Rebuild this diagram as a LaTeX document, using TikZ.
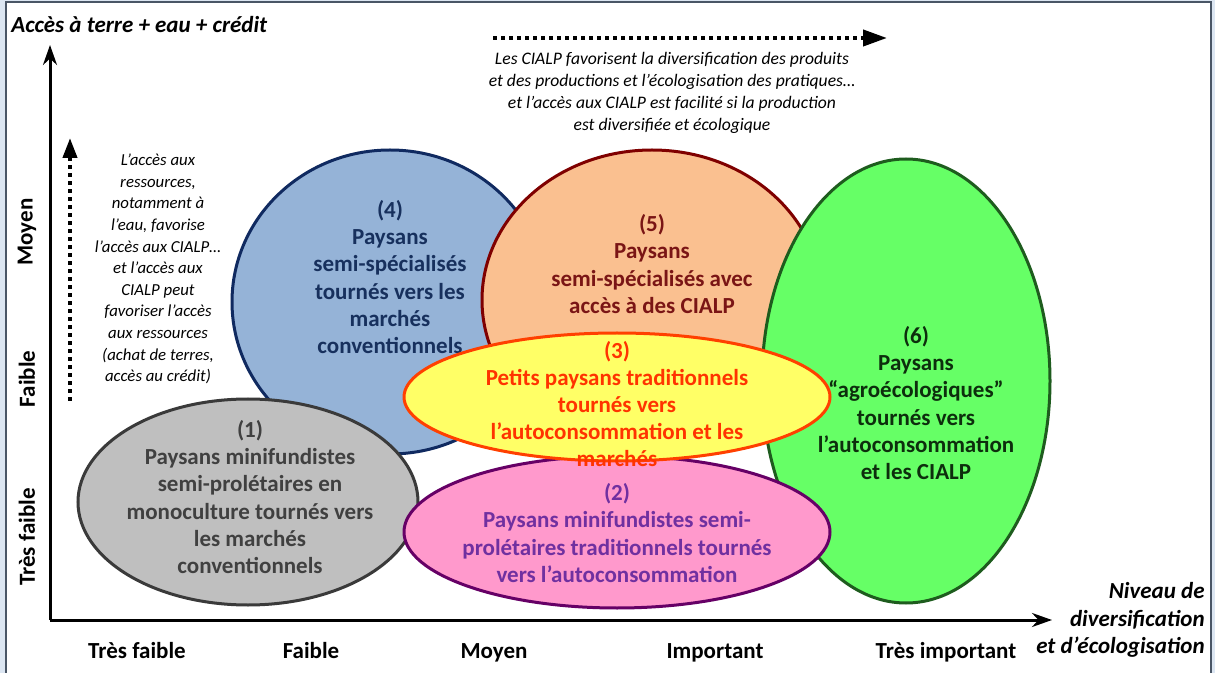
\documentclass[tikz,border=0pt]{standalone}
\usepackage{fontspec}
\setmainfont{Carlito}
\usetikzlibrary{arrows.meta,shapes.geometric}
\definecolor{edge}{HTML}{DCE6F2}
\definecolor{rim}{HTML}{4A5666}
\definecolor{fillA}{HTML}{BFBFBF}\definecolor{lineA}{HTML}{3A3A3A}\definecolor{textA}{HTML}{404040}
\definecolor{fillB}{HTML}{FF99CC}\definecolor{lineB}{HTML}{660066}\definecolor{textB}{HTML}{7030A0}
\definecolor{fillC}{HTML}{FFFF66}\definecolor{lineC}{HTML}{FF4000}\definecolor{textC}{HTML}{FF3300}
\definecolor{fillD}{HTML}{95B3D7}\definecolor{lineD}{HTML}{102A60}\definecolor{textD}{HTML}{17305D}
\definecolor{fillE}{HTML}{FAC090}\definecolor{lineE}{HTML}{7F0000}\definecolor{textE}{HTML}{7A1515}
\definecolor{fillF}{HTML}{66FF66}\definecolor{lineF}{HTML}{1E5C1E}\definecolor{textF}{HTML}{0D2E0D}
\tikzset{
  grp/.style={ellipse,draw,line width=1.5pt,inner sep=0pt},
  grptxt/.style={font=\bfseries\fontsize{11.5}{13.6}\selectfont,align=center,inner sep=0pt},
  lvl/.style={font=\bfseries\fontsize{11.5}{13.6}\selectfont,inner sep=0pt},
  note/.style={font=\itshape\fontsize{8.8}{11}\selectfont,align=center,inner sep=0pt},
  axis/.style={line width=1.5pt,-{Stealth[length=10pt,width=7pt]}},
  dots/.style={line width=2pt,dash pattern=on 2pt off 2pt}
}

\begin{document}
\begin{tikzpicture}[x=0.5pt,y=-0.5pt]
  \useasboundingbox (0,0) rectangle (1215,673);
  \fill[edge] (0,0) rectangle (1215,673);
  \draw[rim,line width=1pt,fill=white] (6,2) rectangle (1211,690);
  % axes
  \coordinate (o) at (50,620);
  \coordinate (ytip) at (50,45);
  \coordinate (xtip) at (1052,620);
  \draw[axis] (o) -- (ytip);
  \draw[axis] (o) -- (xtip);
  \node[lvl,font=\bfseries\itshape\fontsize{11.5}{13.6}\selectfont,anchor=west] (ytitle) at (11,25) {Accès à terre + eau + crédit};
  \node[lvl,font=\bfseries\itshape\fontsize{11.5}{13.6}\selectfont,align=right,anchor=east] (xtitle) at (1205,620) {Niveau de\\diversification\\et d’écologisation};
  \foreach \lab/\y in {Moyen/232,Faible/379,Très faible/537}
    \node[lvl,rotate=90] (y-\y) at (27,\y) {\lab};
  \foreach \lab/\x in {Très faible/137,Faible/311,Moyen/494,Important/715,Très important/946}
    \node[lvl,anchor=base] (x-\x) at (\x,658) {\lab};
  % dotted arrows and notes
  \coordinate (h1) at (493,38);
  \coordinate (h2) at (887,38);
  \draw[dots,-{Triangle[length=12pt,width=8pt]}] (h1) -- (h2);
  \node[note] (topnote) at (672,93) {Les CIALP favorisent la diversification des produits\\et des productions et l’écologisation des pratiques…\\et l’accès aux CIALP est facilité si la production\\est diversifiée et écologique};
  \coordinate (v1) at (70,401);
  \coordinate (v2) at (70,138);
  \draw[dots,-{Triangle[length=10pt,width=7pt]}] (v1) -- (v2);
  \node[note,font=\itshape\fontsize{8.4}{10.8}\selectfont] (leftnote) at (158,269) {L’accès aux\\ressources,\\notamment à\\l’eau, favorise\\l’accès aux CIALP…\\et l’accès aux\\CIALP peut\\favoriser l’accès\\aux ressources\\(achat de terres,\\accès au crédit)};
  % groups, back to front
  \node[grp,fill=fillD,draw=lineD,minimum width=158pt,minimum height=152pt] (g4) at (390,302) {};
  \node[grptxt,text=textD] (t4) at (390,277) {(4)\\Paysans\\semi-spécialisés\\tournés vers les\\marchés\\conventionnels};
  \node[grp,fill=fillA,draw=lineA,minimum width=170pt,minimum height=103pt] (g1) at (248,502) {};
  \node[grptxt,text=textA] (t1) at (250,497) {(1)\\Paysans minifundistes\\semi-prolétaires en\\monoculture tournés vers\\les marchés\\conventionnels};
  \node[grp,fill=fillE,draw=lineE,minimum width=170pt,minimum height=150pt] (g5) at (652,300) {};
  \node[grptxt,text=textE] (t5) at (652,264) {(5)\\Paysans\\semi-spécialisés avec\\accès à des CIALP};
  \node[grp,fill=fillF,draw=lineF,minimum width=144pt,minimum height=222pt] (g6) at (906,381) {};
  \node[grptxt,text=textF] (t6) at (916,403) {(6)\\Paysans\\“agroécologiques”\\tournés vers\\l’autoconsommation\\et les CIALP};
  \node[grp,fill=fillB,draw=lineB,minimum width=213pt,minimum height=76pt] (g2) at (617,532) {};
  \node[grptxt,text=textB] (t2) at (617,533) {(2)\\Paysans minifundistes semi-\\prolétaires traditionnels tournés\\vers l’autoconsommation};
  \node[grp,fill=fillC,draw=lineC,minimum width=213pt,minimum height=64pt] (g3) at (617,397) {};
  \node[grptxt,text=textC] (t3) at (617,404) {(3)\\Petits paysans traditionnels\\tournés vers\\l’autoconsommation et les\\marchés};
\end{tikzpicture}
\end{document}
